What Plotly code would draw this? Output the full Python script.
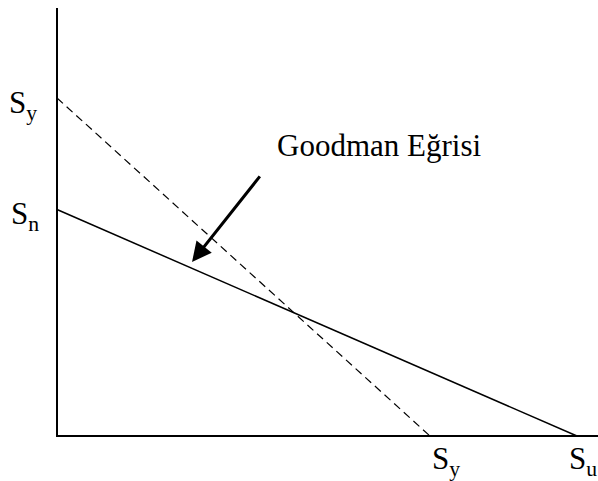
import plotly.graph_objects as go

# Goodman diagram values (relative units)
sn = 0.67          # endurance strength on the vertical axis
sy_v = 1.0         # yield strength on the vertical axis
sy_h = 1.0         # yield strength on the horizontal axis
su = 1.394         # ultimate strength on the horizontal axis

goodman_x = [0, su]
goodman_y = [sn, 0]
yield_x = [0, sy_h]
yield_y = [sy_v, 0]

label_font = dict(family="'Liberation Serif', 'Times New Roman', Times, serif", size=31, color='black')

fig = go.Figure()

# axes drawn as plain lines
fig.add_trace(go.Scatter(x=[0, 0, 1.455], y=[1.266, 0, 0], mode='lines',
                         line=dict(color='black', width=2), hoverinfo='skip'))
fig.add_trace(go.Scatter(x=yield_x, y=yield_y, mode='lines',
                         line=dict(color='black', width=1.2, dash='8px,5px'), hoverinfo='skip'))
fig.add_trace(go.Scatter(x=goodman_x, y=goodman_y, mode='lines',
                         line=dict(color='black', width=1.5), hoverinfo='skip'))

annotations = [
    dict(x=0, y=sy_v, text='S<sub>y</sub>', xanchor='right', yanchor='middle', xshift=-18, yshift=-7),
    dict(x=0, y=sn, text='S<sub>n</sub>', xanchor='right', yanchor='middle', xshift=-16, yshift=-6),
    dict(x=sy_h, y=0, text='S<sub>y</sub>', xanchor='center', yanchor='top', xshift=16, yshift=-3),
    dict(x=su, y=0, text='S<sub>u</sub>', xanchor='center', yanchor='top', xshift=6, yshift=-3),
    dict(x=0.584, y=0.86, text='Goodman Eğrisi', xanchor='left', yanchor='middle'),
]
for a in annotations:
    fig.add_annotation(showarrow=False, font=label_font, **a)

# arrow pointing at the Goodman line
fig.add_annotation(x=0.362, y=0.515, ax=69, ay=-87, text='', showarrow=True,
                   arrowhead=2, arrowsize=1.3, arrowwidth=3, arrowcolor='black')

fig.update_layout(
    width=598, height=481,
    margin=dict(l=0, r=0, t=0, b=0),
    paper_bgcolor='white', plot_bgcolor='white',
    showlegend=False,
    xaxis=dict(range=[-0.1528, 1.4504], visible=False, fixedrange=True),
    yaxis=dict(range=[-0.1331, 1.2899], visible=False, fixedrange=True),
)

# page body has a default 8px margin; drop it so the figure sits at the corner
fig.write_html("out.html", config={'displayModeBar': False},
               post_script="document.body.style.margin='0';")
